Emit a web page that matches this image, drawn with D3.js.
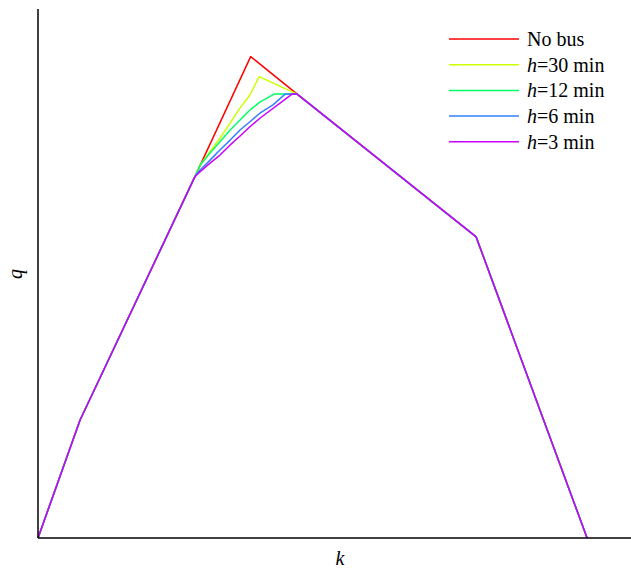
<!DOCTYPE html>
<html>
<head>
<meta charset="utf-8">
<script src="https://cdn.jsdelivr.net/npm/d3@7"></script>
<style>
  html, body { margin: 0; padding: 0; background: #fff; }
  svg { display: block; }
</style>
</head>
<body>
<svg id="chart" width="631" height="569"></svg>
<script>
// Series names and colours
const seriesNames = ["No bus", "h=30 min", "h=12 min", "h=6 min", "h=3 min"];
const seriesColors = ["#ff0000", "#ccff00", "#00ff66", "#3380ff", "#cc00ff"];

// Density k (shared uncongested start, peak branches, congested end)
const noBusK = [0, 11.5, 42.9, 58.1, 70.8, 119.7, 150];
const noBusQ = [0, 513, 1572, 2093, 1930, 1309, 0];

const h30K = [0, 11.5, 42.9, 44.3, 47.0, 49.7, 52.5, 55.2, 57.9, 60.4, 70.8, 119.7, 150];
const h30Q = [0, 513, 1572, 1622, 1680, 1738, 1804, 1870, 1926, 2006, 1930, 1309, 0];

const h12K = [0, 11.5, 42.9, 44.3, 47.0, 49.7, 52.5, 55.2, 57.9, 60.7, 64.5, 70.8, 119.7, 150];
const h12Q = [0, 513, 1572, 1622, 1674, 1723, 1774, 1817, 1861, 1896, 1930, 1930, 1309, 0];

const h6K = [0, 11.5, 42.9, 44.3, 47.0, 49.7, 52.5, 55.2, 57.9, 60.7, 64.2, 67.5, 70.8, 119.7, 150];
const h6Q = [0, 513, 1572, 1600, 1643, 1687, 1730, 1774, 1810, 1848, 1883, 1930, 1930, 1309, 0];

const h3K = [0, 11.5, 42.9, 44.3, 47.0, 49.7, 52.5, 55.2, 57.9, 60.7, 69.4, 70.8, 119.7, 150];
const h3Q = [0, 513, 1572, 1593, 1630, 1665, 1709, 1748, 1788, 1826, 1930, 1930, 1309, 0];

const seriesK = [noBusK, h30K, h12K, h6K, h3K];
const seriesQ = [noBusQ, h30Q, h12Q, h6Q, h3Q];

const kDomain = [0, 162];
const qDomain = [0, 2300];

const svg = d3.select("#chart");
const x = d3.scaleLinear().domain(kDomain).range([38, 631]);
const y = d3.scaleLinear().domain(qDomain).range([538, 9]);

const line = d3.line().x(d => x(d[0])).y(d => y(d[1]));

seriesNames.forEach((name, i) => {
  const pts = seriesK[i].map((k, j) => [k, seriesQ[i][j]]);
  svg.append("path")
    .attr("d", line(pts))
    .attr("fill", "none")
    .attr("stroke", seriesColors[i])
    .attr("stroke-width", 1.5)
    .attr("stroke-linejoin", "round");
});

// Axes (plain lines, no ticks)
svg.append("line")
  .attr("x1", x(kDomain[0])).attr("x2", x(kDomain[1]))
  .attr("y1", y(0)).attr("y2", y(0))
  .attr("stroke", "#000").attr("stroke-width", 1.5);
svg.append("line")
  .attr("x1", x(0)).attr("x2", x(0))
  .attr("y1", y(0)).attr("y2", y(qDomain[1]))
  .attr("stroke", "#000").attr("stroke-width", 1.5);

// Axis labels
svg.append("text")
  .attr("x", 340).attr("y", 565)
  .attr("text-anchor", "middle")
  .attr("font-family", "'Liberation Serif', 'Times New Roman', serif")
  .attr("font-style", "italic")
  .attr("font-size", 20)
  .text("k");
svg.append("text")
  .attr("transform", "translate(22,274) rotate(-90)")
  .attr("text-anchor", "middle")
  .attr("font-family", "'Liberation Serif', 'Times New Roman', serif")
  .attr("font-style", "italic")
  .attr("font-size", 20)
  .text("q");

// Legend
const legend = svg.append("g");
seriesNames.forEach((name, i) => {
  const ly = 39 + i * 25.7;
  legend.append("line")
    .attr("x1", 449).attr("x2", 519)
    .attr("y1", ly).attr("y2", ly)
    .attr("stroke", seriesColors[i]).attr("stroke-width", 1.5);
  const t = legend.append("text")
    .attr("x", 527).attr("y", ly + 7)
    .attr("font-family", "'Liberation Serif', 'Times New Roman', serif")
    .attr("font-size", 20);
  if (name.startsWith("h=")) {
    t.append("tspan").attr("font-style", "italic").text("h");
    t.append("tspan").text(name.slice(1));
  } else {
    t.text(name);
  }
});
</script>
</body>
</html>
